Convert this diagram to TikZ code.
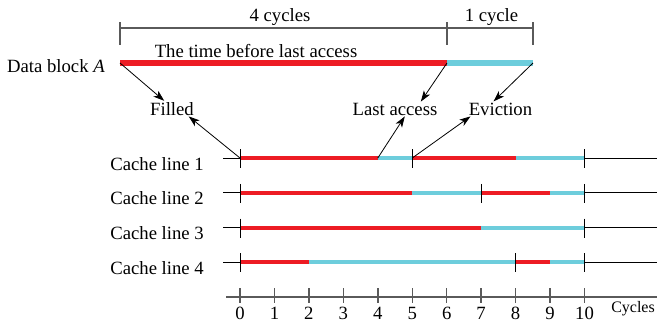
\documentclass[tikz,border=0pt]{standalone}
\usepackage{fontspec}
\setmainfont{Liberation Serif}
\usetikzlibrary{arrows.meta}
\definecolor{barred}{HTML}{ED1C24}
\definecolor{barblue}{HTML}{6DCDDC}
\definecolor{axisgray}{HTML}{5A5A5A}
\begin{document}
\begin{tikzpicture}[x=1pt,y=1pt,
  lbl/.style={font=\fontsize{18.7}{22}\selectfont, inner sep=1pt},
  arr/.style={-{Stealth[length=11pt,width=7.5pt,inset=3pt]}, line width=0.8pt},
  topred/.style={barred, line width=6pt},
  topblue/.style={barblue, line width=6pt},
  cacheline/.style={black, line width=0.8pt},
  linetick/.style={black, line width=0.9pt},
  dimline/.style={axisgray, line width=1.3pt},
  axisline/.style={axisgray, line width=1.5pt}
]
\useasboundingbox (0,0) rectangle (657,-322);

% ---- top dimension line ----
\coordinate (d0) at (120,-28);
\coordinate (d1) at (447,-28);
\coordinate (d2) at (533,-28);
\draw[dimline] (d0) -- (d2);
\foreach \x in {120,447,533} \draw[dimline] (\x,-22) -- (\x,-45);
\node[lbl,anchor=base] (four) at (280,-21) {4 cycles};
\node[lbl,anchor=base] (one) at (491.5,-21) {1 cycle};
\node[lbl,anchor=base] (time) at (256,-57) {The time before last access};

% ---- data block bar ----
\coordinate (aS) at (120,-63);
\coordinate (aL) at (447,-63);
\coordinate (aE) at (533,-63);
\draw[topred] (aS) -- (aL);
\draw[topblue] (aL) -- (aE);
\node[lbl,anchor=base east] (data) at (106,-72) {Data block \textit{A}};

% ---- event labels ----
\node[lbl,anchor=base] (filled) at (172,-115) {Filled};
\node[lbl,anchor=base] (last) at (395,-115) {Last access};
\node[lbl,anchor=base] (evict) at (500.5,-115) {Eviction};

% ---- cache lines ----
\foreach \i/\y in {1/-158, 2/-192.75, 3/-227.5, 4/-262.25}{
  \draw[cacheline] (223,\y) -- (657,\y);
  \node[lbl,anchor=base east] (cl\i) at (205,\y-12) {Cache line \i};
}
% segments: line / start / end / colour
\foreach \y/\a/\b/\c in {
  -158/0/4/barred, -158/4/5/barblue, -158/5/8/barred, -158/8/10/barblue,
  -192.75/0/5/barred, -192.75/5/7/barblue, -192.75/7/9/barred, -192.75/9/10/barblue,
  -227.5/0/7/barred, -227.5/7/10/barblue,
  -262.25/0/2/barred, -262.25/2/8/barblue, -262.25/8/9/barred, -262.25/9/10/barblue}{
  \draw[\c, line width=4pt] ({240+34.45*\a},\y) -- ({240+34.45*\b},\y);
}
% ticks on cache lines
\foreach \y/\k in {-158/0,-158/5,-158/10,
                   -192.75/0,-192.75/7,-192.75/10,
                   -227.5/0,-227.5/10,
                   -262.25/0,-262.25/8,-262.25/10}{
  \draw[linetick] ({240+34.45*\k},\y+9) -- ({240+34.45*\k},\y-10);
}
\coordinate (c10) at (240,-158);
\coordinate (c14) at ({240+34.45*4},-158);
\coordinate (c15) at ({240+34.45*5},-158);

% ---- arrows ----
\draw[arr] (aS) -- (filled.135);
\draw[arr] (c10) -- (filled.-25);
\draw[arr] (aL) -- (last.16);
\draw[arr] (c14) -- (last.-37);
\draw[arr] (aE) -- (evict.133);
\draw[arr] (c15) -- (evict.194);

% ---- cycles axis ----
\draw[axisline] (226,-297) -- (657,-297);
\foreach \k in {0,...,10}{
  \draw[axisline] ({240+34.45*\k},-288) -- ({240+34.45*\k},-303);
  \node[lbl,anchor=base] (n\k) at ({240+34.45*\k},-319.5) {\k};
}
\node[lbl,anchor=base east,inner sep=0pt,font=\fontsize{16}{19}\selectfont] (cycles) at (655,-312) {Cycles};
\end{tikzpicture}
\end{document}
